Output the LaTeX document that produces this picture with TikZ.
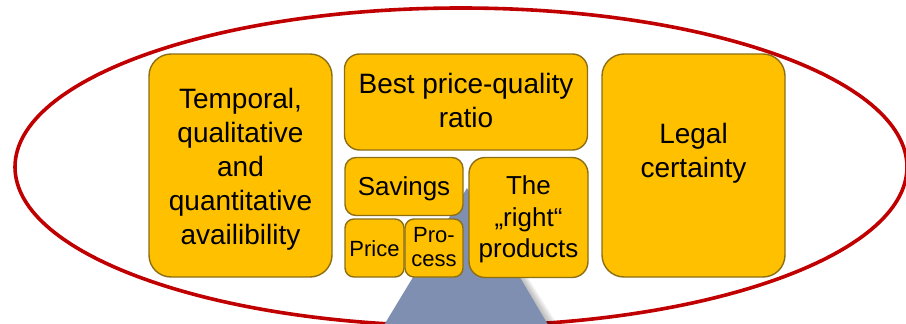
\documentclass[tikz,border=0pt]{standalone}
\usepackage{fontspec}
\setmainfont{Liberation Sans}
\begin{document}
\definecolor{ringred}{RGB}{192,0,0}
\definecolor{boxfill}{RGB}{255,192,0}
\definecolor{boxline}{RGB}{140,110,20}
\definecolor{roofgray}{RGB}{127,143,177}
\begin{tikzpicture}[x=1pt,y=-1pt,
  box/.style={draw=boxline, fill=boxfill, line width=1.4pt, inner sep=0pt},
  bigtxt/.style={font=\fontsize{28}{34}\selectfont, align=center, inner sep=0pt},
  midtxt/.style={font=\fontsize{26}{31.5}\selectfont, align=center, inner sep=0pt},
  smalltxt/.style={font=\fontsize{22}{24}\selectfont, align=center, inner sep=0pt}]
\useasboundingbox (0,0) rectangle (906,324);

% outer ring
\draw[ringred, line width=3.6pt] (461,167) ellipse [x radius=446, y radius=159];

% supporting wedge with a soft shadow on its right side
\foreach \s in {1,...,8}
  \fill[black, opacity=0.035] (467+\s*0.5,188) -- (548+\s*1.2,324) -- (575,340) -- (548,340) -- cycle;
\coordinate (apex) at (467,188);
\coordinate (baseL) at (375,340);
\coordinate (baseR) at (557,340);
\fill[roofgray] (apex) -- (baseL) -- (baseR) -- cycle;

% boxes
\node[box, rounded corners=22pt, minimum width=183pt, minimum height=223pt] (temporal) at (240.5,165.5) {};
\node[box, rounded corners=15pt, minimum width=243pt, minimum height=96pt] (best) at (466,102) {};
\node[box, rounded corners=11pt, minimum width=118pt, minimum height=58pt] (savings) at (404,186.5) {};
\node[box, rounded corners=9pt, minimum width=59pt, minimum height=58pt] (price) at (374.5,248) {};
\node[box, rounded corners=9pt, minimum width=58pt, minimum height=58pt] (process) at (434,248) {};
\node[box, rounded corners=16pt, minimum width=119pt, minimum height=120pt] (right) at (528.5,217.5) {};
\node[box, rounded corners=22pt, minimum width=183pt, minimum height=223pt] (legal) at (693.5,165.5) {};

% labels
\node[bigtxt] (temporaltxt) at (240.5,168.8) {Temporal,\\qualitative\\and\\quantitative\\availibility};
\node[bigtxt] (besttxt) at (466,100.8) {Best price-quality\\ratio};
\node[bigtxt] (legaltxt) at (693.5,153) {Legal\\certainty};
\node[midtxt, anchor=base] (savingstxt) at (404,195) {Savings};
\node[midtxt] (righttxt) at (528.5,219.7) {The\\„right“\\products};
\node[smalltxt, anchor=base] (pricetxt) at (374.5,256) {Price};
\node[smalltxt] (processtxt) at (434,247) {Pro-\\cess};
\end{tikzpicture}
\end{document}
